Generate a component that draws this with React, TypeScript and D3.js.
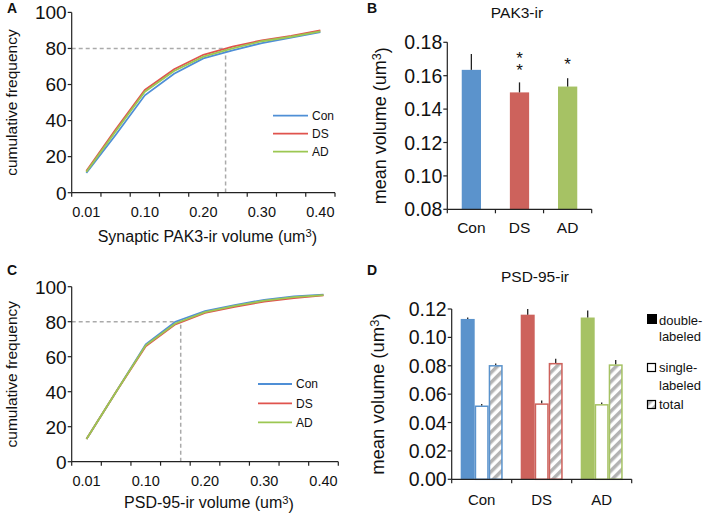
import React from "react";
import * as d3 from "d3";

// ---------- data ----------
const volumeBins = ["0.01", "0.05", "0.10", "0.15", "0.20", "0.25", "0.30", "0.35", "0.40"];
const binLabelShown = ["0.01", "0.10", "0.20", "0.30", "0.40"];
const groups = ["Con", "DS", "AD"];

const pak3Con = [11, 32, 54, 66, 74.5, 79, 83, 86, 89];
const pak3DS = [12, 35, 57, 68.5, 76.5, 81, 84.5, 87, 90];
const pak3AD = [11.5, 34, 56, 67.5, 75.5, 80, 84, 86.5, 89.5];
const psdCon = [13, 40, 67, 80, 86, 89.5, 92.5, 94.5, 95.5];
const psdDS = [13, 40, 66, 78.5, 85, 88.5, 91.5, 93.5, 95];
const psdAD = [13, 40, 66.5, 79, 85.5, 89, 92, 94, 95.2];
const cumTicks = [0, 20, 40, 60, 80, 100];
const refLevel = 80;
const pak3Cross = 4.76; // bin position where 80% is reached
const psdCross = 3.18;

const pak3Mean = [0.1635, 0.150, 0.1535];
const pak3Err = [0.0095, 0.006, 0.005];
const pak3Stars = ["", "**", "*"];
const pak3Ticks = [0.08, 0.10, 0.12, 0.14, 0.16, 0.18];

const psdDouble = [0.113, 0.116, 0.114];
const psdDoubleErr = [0.0006, 0.004, 0.005];
const psdSingle = [0.052, 0.0535, 0.053];
const psdSingleErr = [0.0004, 0.002, 0.001];
const psdTotal = [0.0805, 0.082, 0.081];
const psdTotalErr = [0.0005, 0.003, 0.003];
const psdTicks = [0, 0.02, 0.04, 0.06, 0.08, 0.10, 0.12];

const lineColors = ["#4f8fd6", "#e0534d", "#9cc752"];
const barColors = ["#5b93cc", "#cd625c", "#a6c264"];

const FONT = "'Liberation Sans', Arial, sans-serif";

function UnitText(props: any) {
  const { prefix, ...rest } = props;
  return (
    <text {...rest}>
      {prefix}
      <tspan dy="-0.4em" fontSize="70%">3</tspan>
      <tspan dy="0.4em">)</tspan>
    </text>
  );
}

function CumPanel(props: {
  x0: number; x1: number; yTop: number; yBot: number;
  series: number[][]; cross: number; title: string; titleY: number;
  legX0: number; legX1: number; legY: number[]; letter: string; letterY: number;
}) {
  const { x0, x1, yTop, yBot, series, cross, title, titleY, legX0, legX1, legY, letter, letterY } = props;
  const xb = d3.scaleBand<string>().domain(volumeBins).range([x0, x1]);
  const bw = xb.bandwidth();
  const xPos = d3.scaleLinear().domain([-0.5, volumeBins.length - 0.5]).range([x0, x1]);
  const y = d3.scaleLinear().domain([0, 100]).range([yBot, yTop]);
  const line = d3.line<number>().x((_, i) => (xb(volumeBins[i]) as number) + bw / 2).y((d) => y(d));
  const boundaries = d3.range(volumeBins.length + 1).map((i) => x0 + i * xb.step());
  const crossX = xPos(cross);
  return (
    <g fontFamily={FONT} fill="#111">
      <text x={7} y={letterY} fontWeight="bold" fontSize={14}>{letter}</text>
      <path d={`M${x0},${y(refLevel)}H${crossX}V${yBot}`} fill="none" stroke="#aaa" strokeWidth={1.5} strokeDasharray="4,3" />
      {series.map((s, k) => (
        <path key={k} d={line(s) as string} fill="none" stroke={lineColors[k]} strokeWidth={1.8} />
      ))}
      <line x1={x0} x2={x0} y1={yTop} y2={yBot} stroke="#222" strokeWidth={1.2} />
      <line x1={x0} x2={x1} y1={yBot} y2={yBot} stroke="#222" strokeWidth={1.2} />
      {cumTicks.map((t) => (
        <g key={t}>
          <line x1={x0 - 4} x2={x0} y1={y(t)} y2={y(t)} stroke="#222" strokeWidth={1.2} />
          <text x={x0 - 5} y={y(t)} dy="0.36em" textAnchor="end" fontSize={19}>{t}</text>
        </g>
      ))}
      {boundaries.map((b, i) => (
        <line key={i} x1={b} x2={b} y1={yBot} y2={yBot + 4} stroke="#222" strokeWidth={1.2} />
      ))}
      {volumeBins.map((c) => binLabelShown.includes(c) ? (
        <text key={c} x={(xb(c) as number) + bw / 2} y={yBot + 24} textAnchor="middle" fontSize={14.5}>{c}</text>
      ) : null)}
      <text transform={`translate(17,${(yTop + yBot) / 2}) rotate(-90)`} textAnchor="middle" fontSize={15.5}>cumulative frequency</text>
      <UnitText x={(x0 + x1) / 2 + 4} y={titleY} textAnchor="middle" fontSize={16} prefix={title + " volume (um"} />
      {groups.map((g, k) => (
        <g key={g}>
          <line x1={legX0} x2={legX1} y1={legY[k]} y2={legY[k]} stroke={lineColors[k]} strokeWidth={1.8} />
          <text x={legX1 + 4} y={legY[k]} dy="0.36em" fontSize={12}>{g}</text>
        </g>
      ))}
    </g>
  );
}

function PanelB() {
  const x0 = 447.3, x1 = 591.7, yTop = 42.3, yBot = 209.3;
  const xb = d3.scaleBand<string>().domain(groups).range([x0, x1]);
  const bw = xb.bandwidth();
  const barW = bw * 0.4;
  const y = d3.scaleLinear().domain([0.08, 0.18]).range([yBot, yTop]);
  const boundaries = d3.range(groups.length + 1).map((i) => x0 + i * xb.step());
  return (
    <g fontFamily={FONT} fill="#111">
      <text x={367} y={13} fontWeight="bold" fontSize={14}>B</text>
      <text x={517} y={18.3} textAnchor="middle" fontSize={15.5}>PAK3-ir</text>
      {groups.map((g, k) => {
        const cx = (xb(g) as number) + bw / 2;
        const top = y(pak3Mean[k]);
        const et = y(pak3Mean[k] + pak3Err[k]);
        const stars = pak3Stars[k];
        const n = stars.length;
        return (
          <g key={g}>
            <rect x={cx - barW / 2} y={top} width={barW} height={yBot - top} fill={barColors[k]} />
            <line x1={cx} x2={cx} y1={top} y2={et} stroke="#222" strokeWidth={1.3} />
            {n > 0 ? (
              <text x={cx} y={et - 14 - n * 9.5} fontSize={17}
                style={{ writingMode: "vertical-rl", textOrientation: "upright", letterSpacing: "-7.5px" } as any}
                textAnchor="start">{stars}</text>
            ) : null}
          </g>
        );
      })}
      <line x1={x0} x2={x0} y1={yTop} y2={yBot} stroke="#222" strokeWidth={1.2} />
      <line x1={x0} x2={x1} y1={yBot} y2={yBot} stroke="#222" strokeWidth={1.2} />
      {pak3Ticks.map((t) => (
        <g key={t}>
          <line x1={x0 - 4} x2={x0} y1={y(t)} y2={y(t)} stroke="#222" strokeWidth={1.2} />
          <text x={x0 - 5} y={y(t)} dy="0.36em" textAnchor="end" fontSize={19.5}>{t.toFixed(2)}</text>
        </g>
      ))}
      {boundaries.map((b, i) => (
        <line key={i} x1={b} x2={b} y1={yBot} y2={yBot + 4} stroke="#222" strokeWidth={1.2} />
      ))}
      {groups.map((g) => (
        <text key={g} x={(xb(g) as number) + bw / 2} y={yBot + 24} textAnchor="middle" fontSize={15.5}>{g}</text>
      ))}
      <UnitText transform={`translate(386,${(yTop + yBot) / 2}) rotate(-90)`} textAnchor="middle" fontSize={18} prefix="mean volume (um" />
    </g>
  );
}

function PanelD() {
  const x0 = 451.7, x1 = 631.7, yTop = 309, yBot = 479.3;
  const xb = d3.scaleBand<string>().domain(groups).range([x0, x1]);
  const bw = xb.bandwidth();
  const barW = 14;
  const y = d3.scaleLinear().domain([0, 0.12]).range([yBot, yTop]);
  const boundaries = d3.range(groups.length + 1).map((i) => x0 + i * xb.step());
  const kinds = [
    { v: psdDouble, e: psdDoubleErr },
    { v: psdSingle, e: psdSingleErr },
    { v: psdTotal, e: psdTotalErr },
  ];
  return (
    <g fontFamily={FONT} fill="#111">
      <defs>
        <pattern id="hatch" patternUnits="userSpaceOnUse" width={7} height={7} patternTransform="rotate(45)">
          <rect x={0} y={0} width={7} height={7} fill="#fff" />
          <rect x={0} y={0} width={3.5} height={7} fill="#b3b3b3" />
        </pattern>
      </defs>
      <text x={367} y={275} fontWeight="bold" fontSize={14}>D</text>
      <text x={535} y={281.7} textAnchor="middle" fontSize={15.5}>PSD-95-ir</text>
      {groups.map((g, k) => {
        const cx = (xb(g) as number) + bw / 2;
        const start = cx - (barW * 3) / 2;
        return (
          <g key={g}>
            {kinds.map((kd, j) => {
              const bx = start + j * barW;
              const top = y(kd.v[k]);
              const et = y(kd.v[k] + kd.e[k]);
              const fill = j === 0 ? barColors[k] : j === 1 ? "#fff" : "url(#hatch)";
              return (
                <g key={j}>
                  <rect x={j === 0 ? bx : bx + 0.75} y={top + (j === 0 ? 0 : 0.75)} width={j === 0 ? barW : barW - 1.5}
                    height={yBot - top - (j === 0 ? 0 : 0.75)} fill={fill}
                    stroke={j === 0 ? "none" : barColors[k]} strokeWidth={1.5} />
                  <line x1={bx + barW / 2} x2={bx + barW / 2} y1={top} y2={Math.min(et, top - 1.5)} stroke="#222" strokeWidth={1.3} />
                </g>
              );
            })}
          </g>
        );
      })}
      <line x1={x0} x2={x0} y1={yTop} y2={yBot} stroke="#222" strokeWidth={1.2} />
      <line x1={x0} x2={x1} y1={yBot} y2={yBot} stroke="#222" strokeWidth={1.2} />
      {psdTicks.map((t) => (
        <g key={t}>
          <line x1={x0 - 4} x2={x0} y1={y(t)} y2={y(t)} stroke="#222" strokeWidth={1.2} />
          <text x={x0 - 5} y={y(t)} dy="0.36em" textAnchor="end" fontSize={19.5}>{t.toFixed(2)}</text>
        </g>
      ))}
      {boundaries.map((b, i) => (
        <line key={i} x1={b} x2={b} y1={yBot} y2={yBot + 4} stroke="#222" strokeWidth={1.2} />
      ))}
      {groups.map((g) => (
        <text key={g} x={(xb(g) as number) + bw / 2} y={yBot + 26} textAnchor="middle" fontSize={15}>{g}</text>
      ))}
      <UnitText transform={`translate(384,${(yTop + yBot) / 2}) rotate(-90)`} textAnchor="middle" fontSize={18.5} prefix="mean volume (um" />
      <rect x={647} y={314} width={10} height={10} fill="#000" />
      <text x={659} y={324.5} fontSize={13}>double-</text>
      <text x={659} y={341} fontSize={13}>labeled</text>
      <rect x={647.5} y={363.5} width={8} height={8} fill="#fff" stroke="#000" strokeWidth={1.2} />
      <text x={659} y={372} fontSize={13}>single-</text>
      <text x={659} y={389.5} fontSize={13}>labeled</text>
      <rect x={647.5} y={400.5} width={8} height={8} fill="url(#hatch)" stroke="#000" strokeWidth={1.2} />
      <text x={659} y={409} fontSize={13}>total</text>
    </g>
  );
}

export default function App() {
  return (
    <div style={{ position: "fixed", left: 0, top: 0, width: 709, height: 515, background: "#fff" }}>
      <svg width={709} height={515} style={{ display: "block" }}>
        <rect width={709} height={515} fill="#fff" />
        <CumPanel x0={71.7} x1={335} yTop={12.4} yBot={192.7} series={[pak3Con, pak3DS, pak3AD]}
          cross={pak3Cross} title="Synaptic PAK3-ir" titleY={241.5}
          legX0={273} legX1={308} legY={[115.7, 133.7, 151.7]} letter="A" letterY={13} />
        <CumPanel x0={71.7} x1={338.3} yTop={286.7} yBot={461.7} series={[psdCon, psdDS, psdAD]}
          cross={psdCross} title="PSD-95-ir" titleY={508}
          legX0={258} legX1={292} legY={[384, 403.3, 422.3]} letter="C" letterY={275} />
        <PanelB />
        <PanelD />
      </svg>
    </div>
  );
}
